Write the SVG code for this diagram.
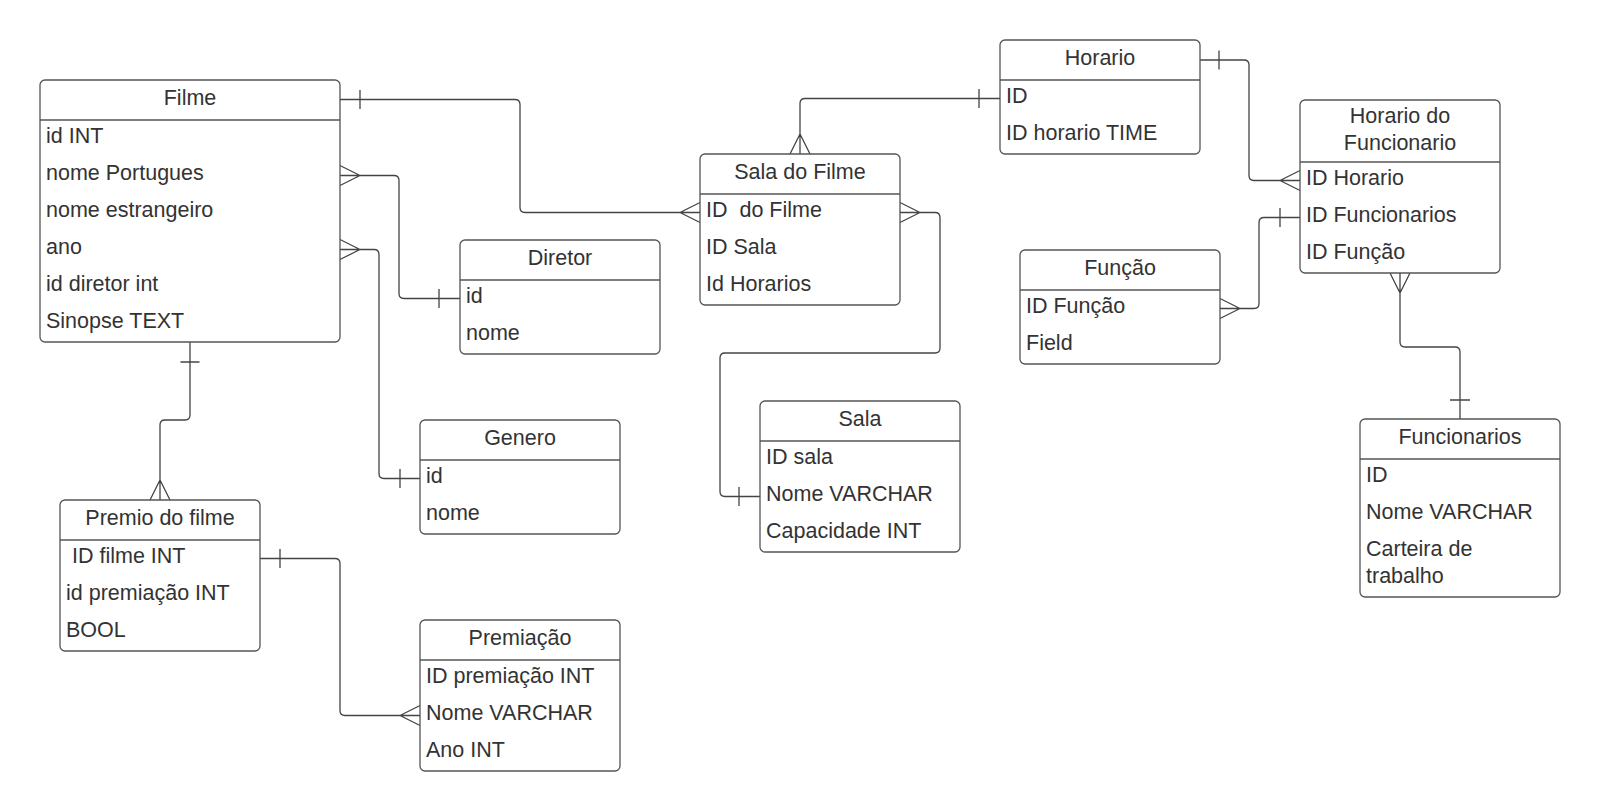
<svg xmlns="http://www.w3.org/2000/svg" width="1600" height="811" viewBox="0 0 1600 811">
<style>
.box{fill:#ffffff;stroke:#555555;stroke-width:1.3}
.sep{stroke:#555555;stroke-width:1.3}
.t{font-family:"Liberation Sans",Arial,sans-serif;font-size:21.5px;fill:#333333}
.h{text-anchor:middle}
.c{fill:none;stroke:#444444;stroke-width:1.3}
</style>
<rect width="1600" height="811" fill="#ffffff"/>
<g id="connectors">
<path class="c" d="M340,99.5 H515 Q520,99.5 520,104.5 V207.5 Q520,212.5 525,212.5 H700 M360,90 V109 M680,212.5 L700,202.5 M680,212.5 L700,222.5"/>
<path class="c" d="M340,175.5 H394 Q399,175.5 399,180.5 V293.5 Q399,298.5 404,298.5 H460 M439,289 V308 M360,175.5 L340,165.5 M360,175.5 L340,185.5"/>
<path class="c" d="M340,249.5 H374 Q379,249.5 379,254.5 V473.5 Q379,478.5 384,478.5 H420 M400,469 V488 M360,249.5 L340,239.5 M360,249.5 L340,259.5"/>
<path class="c" d="M190,342 V415 Q190,420 185,420 H165 Q160,420 160,425 V500 M180.5,362 H199.5 M160,480 L150,500 M160,480 L170,500"/>
<path class="c" d="M260,558.5 H335 Q340,558.5 340,563.5 V710.5 Q340,715.5 345,715.5 H420 M280,549 V568 M400,715.5 L420,705.5 M400,715.5 L420,725.5"/>
<path class="c" d="M1000,98.5 H805 Q800,98.5 800,103.5 V154 M979,89 V108 M800,134 L790,154 M800,134 L810,154"/>
<path class="c" d="M900,212.5 H935 Q940,212.5 940,217.5 V348 Q940,353 935,353 H725 Q720,353 720,358 V491.5 Q720,496.5 725,496.5 H760 M739,487 V506 M920,212.5 L900,202.5 M920,212.5 L900,222.5"/>
<path class="c" d="M1200,60 H1244 Q1249,60 1249,65 V175.5 Q1249,180.5 1254,180.5 H1300 M1219,50.5 V69.5 M1280,180.5 L1300,170.5 M1280,180.5 L1300,190.5"/>
<path class="c" d="M1220,308.5 H1254 Q1259,308.5 1259,303.5 V222.5 Q1259,217.5 1264,217.5 H1300 M1280,208 V227 M1240,308.5 L1220,298.5 M1240,308.5 L1220,318.5"/>
<path class="c" d="M1400,273 V342 Q1400,347 1405,347 H1455 Q1460,347 1460,352 V419 M1450,400 H1470 M1400,293 L1390,273 M1400,293 L1410,273"/>
</g>
<g id="filme">
<rect class="box" x="40" y="80" width="300" height="262" rx="5"/>
<line class="sep" x1="40" y1="120" x2="340" y2="120"/>
<text class="t h" x="190" y="104.5">Filme</text>
<text class="t" x="46" y="142.5">id INT</text>
<text class="t" x="46" y="179.5">nome Portugues</text>
<text class="t" x="46" y="216.5">nome estrangeiro</text>
<text class="t" x="46" y="253.5">ano</text>
<text class="t" x="46" y="290.5">id diretor int</text>
<text class="t" x="46" y="327.5">Sinopse TEXT</text>
</g>
<g id="diretor">
<rect class="box" x="460" y="240" width="200" height="114" rx="5"/>
<line class="sep" x1="460" y1="280" x2="660" y2="280"/>
<text class="t h" x="560" y="264.5">Diretor</text>
<text class="t" x="466" y="302.5">id</text>
<text class="t" x="466" y="339.5">nome</text>
</g>
<g id="genero">
<rect class="box" x="420" y="420" width="200" height="114" rx="5"/>
<line class="sep" x1="420" y1="460" x2="620" y2="460"/>
<text class="t h" x="520" y="444.5">Genero</text>
<text class="t" x="426" y="482.5">id</text>
<text class="t" x="426" y="519.5">nome</text>
</g>
<g id="premio-do-filme">
<rect class="box" x="60" y="500" width="200" height="151" rx="5"/>
<line class="sep" x1="60" y1="540" x2="260" y2="540"/>
<text class="t h" x="160" y="524.5">Premio do filme</text>
<text class="t" x="66" y="562.5" style="white-space:pre"> ID filme INT</text>
<text class="t" x="66" y="599.5">id premiação INT</text>
<text class="t" x="66" y="636.5">BOOL</text>
</g>
<g id="premiacao">
<rect class="box" x="420" y="620" width="200" height="151" rx="5"/>
<line class="sep" x1="420" y1="660" x2="620" y2="660"/>
<text class="t h" x="520" y="644.5">Premiação</text>
<text class="t" x="426" y="682.5">ID premiação INT</text>
<text class="t" x="426" y="719.5">Nome VARCHAR</text>
<text class="t" x="426" y="756.5">Ano INT</text>
</g>
<g id="sala-do-filme">
<rect class="box" x="700" y="154" width="200" height="151" rx="5"/>
<line class="sep" x1="700" y1="194" x2="900" y2="194"/>
<text class="t h" x="800" y="178.5">Sala do Filme</text>
<text class="t" x="706" y="216.5" style="white-space:pre">ID  do Filme</text>
<text class="t" x="706" y="253.5">ID Sala</text>
<text class="t" x="706" y="290.5">Id Horarios</text>
</g>
<g id="sala">
<rect class="box" x="760" y="401" width="200" height="151" rx="5"/>
<line class="sep" x1="760" y1="441" x2="960" y2="441"/>
<text class="t h" x="860" y="425.5">Sala</text>
<text class="t" x="766" y="463.5">ID sala</text>
<text class="t" x="766" y="500.5">Nome VARCHAR</text>
<text class="t" x="766" y="537.5">Capacidade INT</text>
</g>
<g id="horario">
<rect class="box" x="1000" y="40" width="200" height="114" rx="5"/>
<line class="sep" x1="1000" y1="80" x2="1200" y2="80"/>
<text class="t h" x="1100" y="64.5">Horario</text>
<text class="t" x="1006" y="102.5">ID</text>
<text class="t" x="1006" y="139.5">ID horario TIME</text>
</g>
<g id="funcao">
<rect class="box" x="1020" y="250" width="200" height="114" rx="5"/>
<line class="sep" x1="1020" y1="290" x2="1220" y2="290"/>
<text class="t h" x="1120" y="274.5">Função</text>
<text class="t" x="1026" y="312.5">ID Função</text>
<text class="t" x="1026" y="349.5">Field</text>
</g>
<g id="horario-do-funcionario">
<rect class="box" x="1300" y="100" width="200" height="173" rx="5"/>
<line class="sep" x1="1300" y1="162" x2="1500" y2="162"/>
<text class="t h" x="1400" y="122.5">Horario do</text>
<text class="t h" x="1400" y="149.5">Funcionario</text>
<text class="t" x="1306" y="184.5">ID Horario</text>
<text class="t" x="1306" y="221.5">ID Funcionarios</text>
<text class="t" x="1306" y="258.5">ID Função</text>
</g>
<g id="funcionarios">
<rect class="box" x="1360" y="419" width="200" height="178" rx="5"/>
<line class="sep" x1="1360" y1="459" x2="1560" y2="459"/>
<text class="t h" x="1460" y="443.5">Funcionarios</text>
<text class="t" x="1366" y="481.5">ID</text>
<text class="t" x="1366" y="518.5">Nome VARCHAR</text>
<text class="t" x="1366" y="555.5">Carteira de</text>
<text class="t" x="1366" y="582.5">trabalho</text>
</g>
</svg>
